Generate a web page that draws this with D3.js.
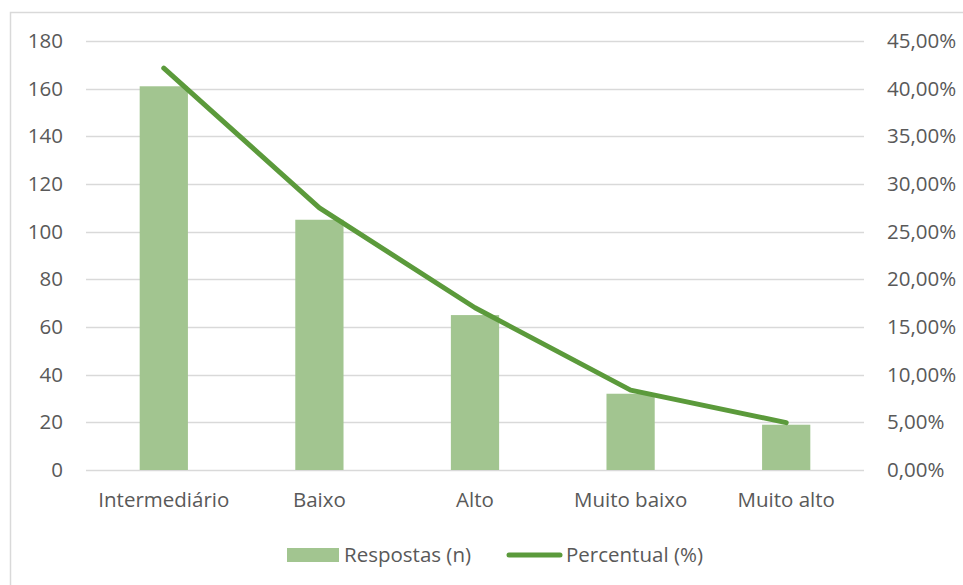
<!DOCTYPE html>
<html>
<head>
<meta charset="utf-8">
<script src="https://cdn.jsdelivr.net/npm/d3@7"></script>
<style>
  html, body { margin: 0; padding: 0; background: #fff; }
  svg { display: block; font-family: "Open Sans", "Noto Sans", sans-serif; }
</style>
</head>
<body>
<svg id="chart" width="963" height="585"></svg>
<script>
// Respostas por categoria e percentual correspondente
const categories = ["Intermediário", "Baixo", "Alto", "Muito baixo", "Muito alto"];
const respostas = [161, 105, 65, 32, 19];
const percentual = [0.4215, 0.2749, 0.1702, 0.0838, 0.0497];
const leftTicks = [0, 20, 40, 60, 80, 100, 120, 140, 160, 180];
const rightTicks = [0, 0.05, 0.10, 0.15, 0.20, 0.25, 0.30, 0.35, 0.40, 0.45];
const seriesNames = ["Respostas (n)", "Percentual (%)"];

const svg = d3.select("#chart");
const textColor = "#595959";
const gridColor = "#d9d9d9";
const barColor = "#a2c590";
const lineColor = "#5b9a3b";
const fontSize = "20.5px";

// chart border
svg.append("rect")
  .attr("x", 10.5).attr("y", 12.5)
  .attr("width", 970).attr("height", 600)
  .attr("fill", "none").attr("stroke", "#d9d9d9").attr("stroke-width", 1.5);

const plot = { left: 86, right: 864, top: 41, bottom: 470 };

const x = d3.scaleBand().domain(categories).range([plot.left, plot.right]).padding(0);
const yL = d3.scaleLinear().domain([0, 180]).range([plot.bottom, plot.top]);
const yR = d3.scaleLinear().domain([0, 0.45]).range([plot.bottom, plot.top]);

// gridlines
svg.append("g").selectAll("line").data(leftTicks).join("line")
  .attr("x1", plot.left).attr("x2", plot.right)
  .attr("y1", d => Math.round(yL(d)) + 0.5).attr("y2", d => Math.round(yL(d)) + 0.5)
  .attr("stroke", gridColor).attr("stroke-width", 1.3);

// left axis
const leftAxis = svg.append("g")
  .attr("transform", `translate(63,0)`)
  .call(d3.axisLeft(yL).tickValues(leftTicks).tickSize(0).tickPadding(0).tickFormat(d3.format("d")));
leftAxis.select(".domain").remove();
leftAxis.selectAll("text").attr("fill", textColor).style("font-size", fontSize)
  .style("font-family", "'Open Sans', sans-serif");

// right axis
const fmtPct = d => (d * 100).toFixed(2).replace(".", ",") + "%";
const rightAxis = svg.append("g")
  .attr("transform", `translate(887,0)`)
  .call(d3.axisRight(yR).tickValues(rightTicks).tickSize(0).tickPadding(0).tickFormat(fmtPct));
rightAxis.select(".domain").remove();
rightAxis.selectAll("text").attr("fill", textColor).style("font-size", fontSize)
  .style("font-family", "'Open Sans', sans-serif");

// bars
const barW = x.bandwidth() * 0.31;
svg.append("g").selectAll("rect").data(categories).join("rect")
  .attr("x", (d) => x(d) + x.bandwidth() / 2 - barW / 2)
  .attr("width", barW)
  .attr("y", (d, i) => yL(respostas[i]))
  .attr("height", (d, i) => plot.bottom - yL(respostas[i]))
  .attr("fill", barColor);

// percentage line
const line = d3.line()
  .x((d, i) => x(categories[i]) + x.bandwidth() / 2)
  .y(d => yR(d));
svg.append("path").datum(percentual)
  .attr("d", line)
  .attr("fill", "none").attr("stroke", lineColor)
  .attr("stroke-width", 5).attr("stroke-linecap", "round").attr("stroke-linejoin", "round");

// category axis
const bottomAxis = svg.append("g")
  .attr("transform", `translate(0,${plot.bottom})`)
  .call(d3.axisBottom(x).tickSize(0).tickPadding(22));
bottomAxis.select(".domain").remove();
bottomAxis.selectAll("text").attr("fill", textColor).style("font-size", fontSize)
  .style("font-family", "'Open Sans', sans-serif");

// legend
const legend = svg.append("g");
legend.append("rect").attr("x", 287).attr("y", 548).attr("width", 52).attr("height", 14).attr("fill", barColor);
legend.append("text").attr("x", 344).attr("y", 555).attr("dy", "0.35em")
  .attr("fill", textColor).style("font-size", fontSize).text(seriesNames[0]);
legend.append("line").attr("x1", 509).attr("x2", 560).attr("y1", 555).attr("y2", 555)
  .attr("stroke", lineColor).attr("stroke-width", 5).attr("stroke-linecap", "round");
legend.append("text").attr("x", 566).attr("y", 555).attr("dy", "0.35em")
  .attr("fill", textColor).style("font-size", fontSize).text(seriesNames[1]);
</script>
</body>
</html>
